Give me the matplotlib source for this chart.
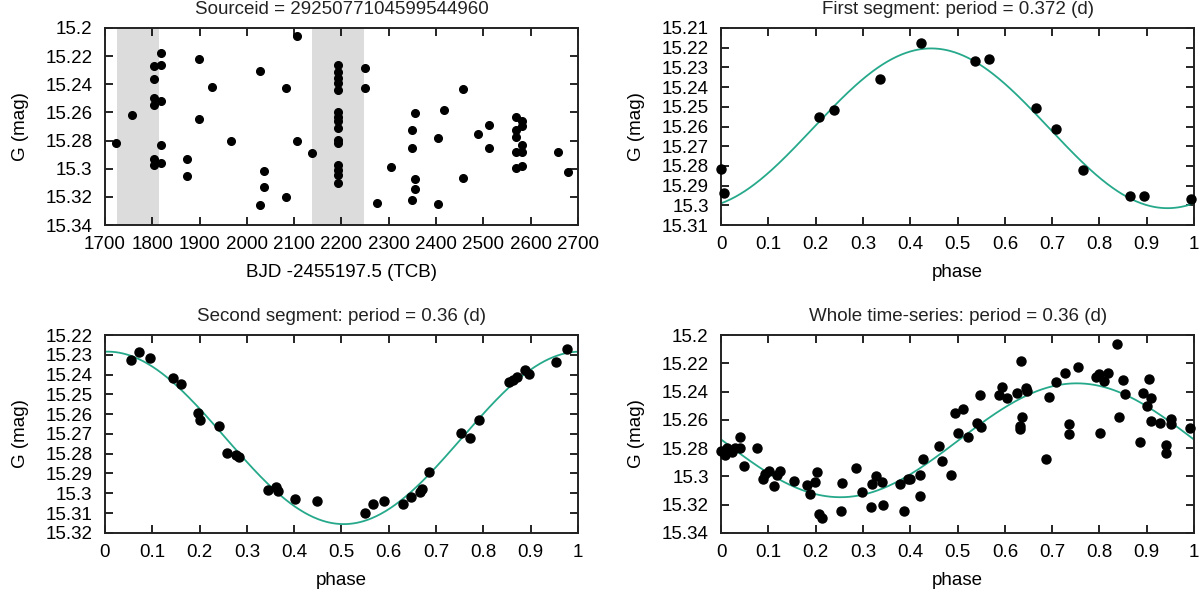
import numpy as np
import matplotlib
matplotlib.use("Agg")
import matplotlib.pyplot as plt
from matplotlib.ticker import MultipleLocator, FormatStrFormatter

plt.rcParams['font.family'] = ['Liberation Sans', 'DejaVu Sans']
plt.rcParams['font.size'] = 13

# ---- time series (panel 1) ----
source_id = "2925077104599544960"
bjd = [1723, 1758, 1804, 1804, 1804, 1804, 1804, 1804, 1818, 1818, 1818, 1818, 1818,
       1899, 1899, 1873, 1873, 1927, 1967, 2028, 2037, 2037, 2082, 2082, 2028, 2107,
       2107, 2137,
       2193, 2193, 2193, 2193, 2193, 2193, 2193, 2193, 2193, 2193, 2193, 2193, 2193,
       2193, 2193, 2250, 2250,
       2276, 2304, 2356, 2349, 2349, 2356, 2356, 2349, 2404, 2404, 2417, 2458, 2458,
       2488, 2513, 2513, 2569, 2569, 2569, 2569, 2569, 2581, 2581, 2581, 2581, 2581,
       2658, 2680]
gmag = [15.2816, 15.262, 15.227, 15.2365, 15.250, 15.255, 15.293, 15.297, 15.2175,
        15.226, 15.252, 15.283, 15.296,
        15.222, 15.265, 15.293, 15.305, 15.242, 15.280, 15.2306, 15.3015, 15.3126,
        15.2424, 15.320, 15.326, 15.2057, 15.280, 15.289,
        15.226, 15.2315, 15.2358, 15.239, 15.244, 15.2595, 15.263, 15.266, 15.271,
        15.2797, 15.2815, 15.2974, 15.301, 15.3045, 15.310, 15.2287, 15.2424,
        15.324, 15.299, 15.2604, 15.2725, 15.2853, 15.3074, 15.3145, 15.322, 15.2784,
        15.325, 15.258, 15.2434, 15.3067, 15.2756, 15.269, 15.2853, 15.263, 15.2725,
        15.2775, 15.288, 15.2998, 15.266, 15.2697, 15.283, 15.288, 15.298,
        15.288, 15.3024]
segments = [(1725, 1815), (2137, 2248)]

# ---- first segment ----
p1_phase = [0.0, 0.006, 0.207, 0.239, 0.335, 0.422, 0.536, 0.566, 0.665, 0.709,
            0.765, 0.864, 0.895, 0.994]
p1_mag = [15.2816, 15.2937, 15.2553, 15.2518, 15.2359, 15.2177, 15.2268, 15.226,
          15.2506, 15.2615, 15.282, 15.2953, 15.2953, 15.2965]
p1_fit = dict(mean=15.2609, amp=0.0405, faint_phase=0.944)

# ---- second segment ----
p2_phase = [0.054, 0.072, 0.095, 0.143, 0.161, 0.196, 0.200, 0.242, 0.259, 0.278,
            0.283, 0.344, 0.361, 0.366, 0.402, 0.448, 0.549, 0.567, 0.590, 0.631,
            0.648, 0.666, 0.671, 0.686, 0.753, 0.773, 0.791, 0.854, 0.863, 0.871,
            0.889, 0.896, 0.953, 0.977]
p2_mag = [15.2325, 15.2284, 15.2318, 15.2416, 15.2446, 15.2596, 15.2628, 15.2658,
          15.2798, 15.2806, 15.2818, 15.2985, 15.2966, 15.2991, 15.3027, 15.3038,
          15.310, 15.3054, 15.3038, 15.3054, 15.3017, 15.2996, 15.2978, 15.2893,
          15.2693, 15.2719, 15.2628, 15.2439, 15.2427, 15.241, 15.2375, 15.2399,
          15.2335, 15.2269]
p2_fit = dict(mean=15.272, amp=0.0436, faint_phase=0.505)

# ---- whole time series ----
p3_phase = [0.0, 0.0085, 0.012, 0.0226, 0.0297, 0.040, 0.040, 0.049, 0.0756, 0.088,
            0.102, 0.118, 0.125, 0.111, 0.093, 0.155, 0.182, 0.187, 0.198, 0.203,
            0.206, 0.213, 0.256, 0.254, 0.286, 0.297, 0.316, 0.318, 0.327, 0.341,
            0.343, 0.379, 0.386, 0.396, 0.400, 0.420, 0.420, 0.427, 0.460, 0.468,
            0.485, 0.494, 0.501, 0.512, 0.521, 0.540, 0.547, 0.549, 0.587, 0.593,
            0.605, 0.625, 0.635, 0.637, 0.632, 0.632, 0.644, 0.646, 0.686, 0.693,
            0.708, 0.727, 0.735, 0.735, 0.755, 0.792, 0.799, 0.802, 0.809, 0.819,
            0.837, 0.842, 0.849, 0.855, 0.886, 0.892, 0.900, 0.905, 0.909, 0.908,
            0.928, 0.941, 0.941, 0.951, 0.951, 0.992]
p3_mag = [15.2818, 15.2848, 15.280, 15.2825, 15.280, 15.280, 15.2723, 15.2926,
          15.280, 15.302, 15.296, 15.299, 15.296, 15.3072, 15.2983, 15.3032,
          15.3065, 15.3124, 15.304, 15.2973, 15.3268, 15.3296, 15.3049, 15.3249,
          15.2938, 15.3108, 15.3218, 15.3056, 15.2997, 15.304, 15.3202, 15.3056,
          15.3244, 15.3016, 15.3016, 15.2988, 15.3138, 15.2879, 15.2785, 15.2893,
          15.2988, 15.2554, 15.2691, 15.2521, 15.2723, 15.262, 15.2427, 15.2648,
          15.2427, 15.2366, 15.2445, 15.2408, 15.2182, 15.2582, 15.2643, 15.2667,
          15.2377, 15.2394, 15.2879, 15.2436, 15.2332, 15.2266, 15.2632, 15.270,
          15.2224, 15.2295, 15.2276, 15.2691, 15.2325, 15.2266, 15.2064, 15.258,
          15.2318, 15.2417, 15.2759, 15.2408, 15.2502, 15.2309, 15.2445, 15.2606,
          15.2624, 15.2776, 15.2834, 15.2596, 15.2632, 15.2655]
p3_fit = dict(mean=15.2745, amp=0.0403, faint_phase=0.252)

titles = ["Sourceid = " + source_id,
          "First segment: period = 0.372 (d)",
          "Second segment: period = 0.36 (d)",
          "Whole time-series: period = 0.36 (d)"]

fit_color = '#26a98b'
band_color = '#dcdcdc'
FS = 13.5


def style_axes(ax, xmin, xmax, xstep, ymin, ymax, ystep):
    """gnuplot-like look: ticks inside on every side, inverted magnitude axis"""
    ax.set_xlim(xmin, xmax)
    ax.set_ylim(ymax, ymin)
    ax.xaxis.set_major_locator(MultipleLocator(xstep))
    ax.yaxis.set_major_locator(MultipleLocator(ystep))
    ax.xaxis.set_major_formatter(FormatStrFormatter('%g'))
    ax.yaxis.set_major_formatter(FormatStrFormatter('%g'))
    ax.tick_params(direction='in', top=True, right=True, length=6, width=1.2,
                   labelsize=FS)
    ax.tick_params(axis='y', pad=9)
    ax.tick_params(axis='x', pad=8)
    for sp in ax.spines.values():
        sp.set_linewidth(1.4)
        sp.set_color('#222222')
    ax.set_ylabel("G (mag)", fontsize=FS, labelpad=12)


def fit_curve(fit):
    ph = np.linspace(0, 1, 400)
    return ph, fit['mean'] + fit['amp'] * np.cos(2 * np.pi * (ph - fit['faint_phase']))


fig = plt.figure(figsize=(12, 5.94), dpi=100)
left1, left2, w = 0.0875, 0.601, 0.394
ax1 = fig.add_axes([left1, 0.621, w, 0.332])
ax2 = fig.add_axes([left2, 0.621, w, 0.332])
ax3 = fig.add_axes([left1, 0.103, w, 0.333])
ax4 = fig.add_axes([left2, 0.103, w, 0.333])

# panel 1: raw light curve with the two segments shaded
for a, b in segments:
    ax1.axvspan(a, b, color=band_color, lw=0, zorder=0)
ax1.plot(bjd, gmag, 'o', color='black', ms=5.5, zorder=3)
style_axes(ax1, 1700, 2700, 100, 15.2, 15.34, 0.02)
ax1.set_xlabel("BJD -2455197.5 (TCB)", fontsize=FS, labelpad=8)

# phase-folded panels
panels = [(ax2, p1_phase, p1_mag, p1_fit, 15.21, 15.31, 0.01),
          (ax3, p2_phase, p2_mag, p2_fit, 15.22, 15.32, 0.01),
          (ax4, p3_phase, p3_mag, p3_fit, 15.2, 15.34, 0.02)]
for ax, ph, mag, fit, ymin, ymax, ystep in panels:
    x, y = fit_curve(fit)
    ax.plot(x, y, '-', color=fit_color, lw=1.3, zorder=2)
    ax.plot(ph, mag, 'o', color='black', ms=6.5, zorder=3, clip_on=False)
    style_axes(ax, 0, 1, 0.1, ymin, ymax, ystep)
    ax.set_xlabel("phase", fontsize=FS, labelpad=8)

for ax, t in zip([ax1, ax2, ax3, ax4], titles):
    ax.set_title(t, fontsize=FS, pad=10, color='#222222')

fig.savefig("out.png", dpi=100)
